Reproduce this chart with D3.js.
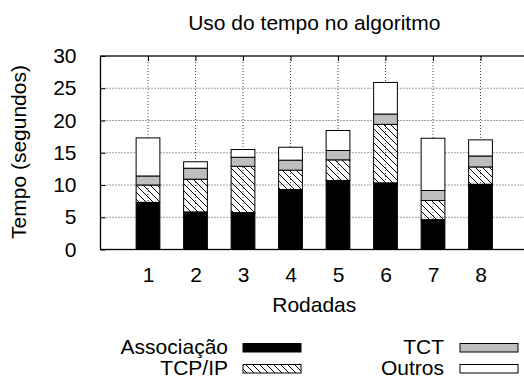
<!DOCTYPE html>
<html>
<head>
<meta charset="utf-8">
<script src="https://cdn.jsdelivr.net/npm/d3@7"></script>
<style>
  body { margin: 0; background: #fff; }
  text { font-family: "Liberation Sans", Arial, Helvetica, sans-serif; fill: #000; }
</style>
</head>
<body>
<div id="chart"></div>
<script>
// data (seconds per run)
const rounds = [1, 2, 3, 4, 5, 6, 7, 8]
const associacao = [7.3, 5.8, 5.7, 9.3, 10.7, 10.3, 4.6, 10.1]
const tcpip = [2.7, 5.1, 7.2, 3.0, 3.2, 9.1, 3.0, 2.7]
const tct = [1.4, 1.7, 1.4, 1.55, 1.45, 1.6, 1.55, 1.7]
const outros = [5.9, 1.0, 1.2, 2.0, 3.1, 4.9, 8.1, 2.5]
const seriesNames = ['Associação', 'TCP/IP', 'TCT', 'Outros']
const yTicks = [0, 5, 10, 15, 20, 25, 30]

const W = 524, H = 381
const margin = { top: 56, left: 100.5, bottom: 249.5, right: 528 }
const fontSize = 21

const svg = d3.select('#chart').append('svg')
  .attr('width', W)
  .attr('height', H)

// hatch pattern for TCP/IP
const defs = svg.append('defs')
defs.append('pattern')
  .attr('id', 'hatch')
  .attr('patternUnits', 'userSpaceOnUse')
  .attr('width', 7)
  .attr('height', 7)
  .append('path')
  .attr('d', 'M0,0 L7,7 M-1,6 L1,8 M6,-1 L8,1')
  .attr('stroke', '#000')
  .attr('stroke-width', 1)

const fills = ['#000', 'url(#hatch)', '#bebebe', '#fff']

// scales
const x = d3.scaleLinear().domain([0, 9]).range([margin.left, margin.right])
const y = d3.scaleLinear().domain([0, 30]).range([margin.bottom, margin.top])
const barW = x(0.5) - x(0)

// table for the stack
const table = rounds.map((r, i) => ({
  round: r,
  'Associação': associacao[i],
  'TCP/IP': tcpip[i],
  'TCT': tct[i],
  'Outros': outros[i],
}))
const stacked = d3.stack().keys(seriesNames)(table)

// grid (dotted, behind the bars)
const grid = svg.append('g')
grid.selectAll('line.h')
  .data(yTicks.filter(d => d > 0 && d < 30))
  .join('line')
  .attr('x1', margin.left).attr('x2', margin.right)
  .attr('y1', d => y(d)).attr('y2', d => y(d))
  .attr('stroke', '#444')
  .attr('stroke-dasharray', '1,2')
grid.selectAll('line.v')
  .data(rounds)
  .join('line')
  .attr('x1', d => x(d)).attr('x2', d => x(d))
  .attr('y1', margin.top).attr('y2', margin.bottom)
  .attr('stroke', '#444')
  .attr('stroke-dasharray', '1,2')

// bars
svg.append('g')
  .selectAll('g')
  .data(stacked)
  .join('g')
  .attr('fill', (d, i) => fills[i])
  .selectAll('rect')
  .data(d => d)
  .join('rect')
  .attr('x', d => x(d.data.round) - barW / 2)
  .attr('width', barW)
  .attr('y', d => y(d[1]))
  .attr('height', d => y(d[0]) - y(d[1]))
  .attr('stroke', '#000')
  .attr('stroke-width', 1)

// axes: ticks inside, mirrored
const tickLen = 5
const yAxis = svg.append('g')
  .attr('transform', `translate(${margin.left},0)`)
  .call(d3.axisLeft(y).tickValues(yTicks).tickSizeInner(-tickLen).tickSizeOuter(0).tickPadding(19 + tickLen))
const xAxis = svg.append('g')
  .attr('transform', `translate(0,${margin.bottom})`)
  .call(d3.axisBottom(x).tickValues(rounds).tickSizeInner(-tickLen).tickSizeOuter(0).tickPadding(13 + tickLen))
const xTop = svg.append('g')
  .attr('transform', `translate(0,${margin.top})`)
  .call(d3.axisTop(x).tickValues(rounds).tickSizeInner(-tickLen).tickSizeOuter(0).tickFormat(''))

;[yAxis, xAxis, xTop].forEach(a => {
  a.select('.domain').remove()
  a.selectAll('line').attr('stroke', '#000')
  a.selectAll('text')
    .style('font-family', '"Liberation Sans", Arial, sans-serif')
    .style('font-size', fontSize + 'px')
    .attr('fill', '#000')
})

// frame
svg.append('rect')
  .attr('x', margin.left)
  .attr('y', margin.top)
  .attr('width', margin.right - margin.left)
  .attr('height', margin.bottom - margin.top)
  .attr('fill', 'none')
  .attr('stroke', '#000')
  .attr('stroke-width', 1.3)

// titles
svg.append('text')
  .attr('x', (margin.left + margin.right) / 2)
  .attr('y', 30)
  .attr('text-anchor', 'middle')
  .style('font-size', fontSize + 'px')
  .text('Uso do tempo no algoritmo')

svg.append('text')
  .attr('x', (margin.left + margin.right) / 2)
  .attr('y', 312)
  .attr('text-anchor', 'middle')
  .style('font-size', fontSize + 'px')
  .text('Rodadas')

svg.append('text')
  .attr('transform', 'translate(26,152) rotate(-90)')
  .attr('text-anchor', 'middle')
  .style('font-size', fontSize + 'px')
  .text('Tempo (segundos)')

// legend, two columns
const legendPos = [
  { tx: 228, bx: 243, y: 354 },
  { tx: 228, bx: 243, y: 375 },
  { tx: 444, bx: 460, y: 354 },
  { tx: 444, bx: 460, y: 375 },
]
const legend = svg.append('g')
  .selectAll('g')
  .data(seriesNames)
  .join('g')
legend.append('text')
  .attr('x', (d, i) => legendPos[i].tx)
  .attr('y', (d, i) => legendPos[i].y)
  .attr('text-anchor', 'end')
  .style('font-size', fontSize + 'px')
  .text(d => d)
legend.append('rect')
  .attr('x', (d, i) => legendPos[i].bx)
  .attr('y', (d, i) => legendPos[i].y - 10.5)
  .attr('width', 58)
  .attr('height', 8.5)
  .attr('fill', (d, i) => fills[i])
  .attr('stroke', '#000')
  .attr('stroke-width', 1)
</script>
</body>
</html>
